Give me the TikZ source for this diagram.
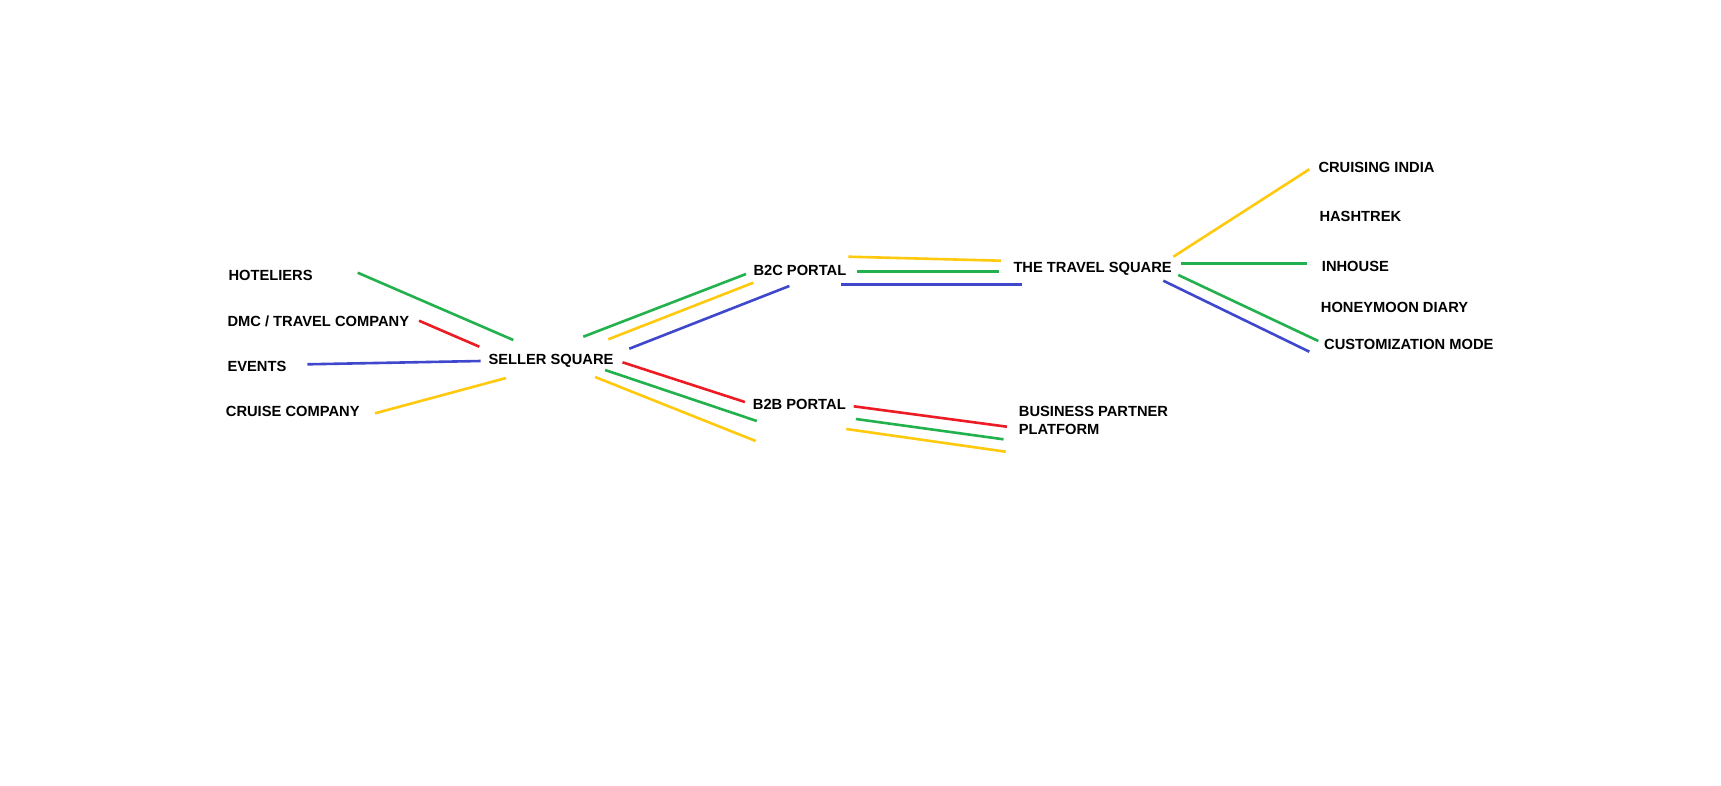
\documentclass[tikz,border=0pt]{standalone}
\usepackage{fontspec}
\setmainfont{Liberation Sans}
\definecolor{pgreen}{RGB}{34,177,76}
\definecolor{pred}{RGB}{237,28,36}
\definecolor{pblue}{RGB}{63,72,204}
\definecolor{pyellow}{RGB}{255,201,14}
\tikzset{
  lbl/.style={anchor=base west, inner sep=0pt, font=\fontsize{14.7}{18.3}\selectfont\bfseries, text=black, align=left},
  seg/.style={line width=2.6pt},
}
\begin{document}
\begin{tikzpicture}[x=1pt,y=-1pt]
\useasboundingbox[fill=white] (0,0) rectangle (1721,785);
% text nodes
\node[lbl] (hot) at (228.3,280.3) {HOTELIERS};
\node[lbl] (dmc) at (227.3,326) {DMC / TRAVEL COMPANY};
\node[lbl] (evt) at (227.3,371.7) {EVENTS};
\node[lbl] (cru) at (225.7,416.7) {CRUISE COMPANY};
\node[lbl] (ss) at (488.3,364) {SELLER SQUARE};
\node[lbl] (b2c) at (753.3,275.3) {B2C PORTAL};
\node[lbl] (b2b) at (752.7,409.3) {B2B PORTAL};
\node[lbl] (tts) at (1013.3,272.3) {THE TRAVEL SQUARE};
\node[lbl] (bpp) at (1018.7,434.3) {BUSINESS PARTNER\\PLATFORM};
\node[lbl] (ci) at (1318.3,172.3) {CRUISING INDIA};
\node[lbl] (ht) at (1319.3,221.3) {HASHTREK};
\node[lbl] (ih) at (1321.7,271.3) {INHOUSE};
\node[lbl] (hm) at (1320.7,312.3) {HONEYMOON DIARY};
\node[lbl] (cm) at (1324,349.3) {CUSTOMIZATION MODE};
% connector end points
\coordinate (a1) at (357.7,272.7); \coordinate (a2) at (513.3,340);
\coordinate (b1) at (419,320.7);   \coordinate (b2) at (479.3,346.7);
\coordinate (c1) at (307.3,364.3); \coordinate (c2) at (480.7,361);
\coordinate (d1) at (375,413.3);   \coordinate (d2) at (506,378);
\coordinate (e1) at (583.3,336.7); \coordinate (e2) at (746,274);
\coordinate (f1) at (608.3,339.3); \coordinate (f2) at (753.3,282.7);
\coordinate (g1) at (629.3,348.7); \coordinate (g2) at (789.3,286);
\coordinate (h1) at (848.3,256.7); \coordinate (h2) at (1001,260.7);
\coordinate (i1) at (857.3,271.3); \coordinate (i2) at (999,271.3);
\coordinate (j1) at (841,284.3);   \coordinate (j2) at (1021.7,284.3);
\coordinate (k1) at (622.5,362.3); \coordinate (k2) at (744.9,402);
\coordinate (l1) at (605.1,370);   \coordinate (l2) at (756.8,421);
\coordinate (m1) at (595.1,377);   \coordinate (m2) at (755.7,441);
\coordinate (n1) at (853.7,406.3); \coordinate (n2) at (1006.9,426.7);
\coordinate (o1) at (855.9,419);   \coordinate (o2) at (1003.5,439.3);
\coordinate (p1) at (846.3,429);   \coordinate (p2) at (1005.7,451.7);
\coordinate (q1) at (1173.3,256.7); \coordinate (q2) at (1309.3,169.3);
\coordinate (r1) at (1181.3,263.3); \coordinate (r2) at (1306.7,263.3);
\coordinate (s1) at (1178.3,275);   \coordinate (s2) at (1318.3,341);
\coordinate (t1) at (1163.3,280.7); \coordinate (t2) at (1309.3,351.7);
% connectors
\draw[seg,pgreen] (a1) -- (a2);
\draw[seg,pred] (b1) -- (b2);
\draw[seg,pblue] (c1) -- (c2);
\draw[seg,pyellow] (d1) -- (d2);
\draw[seg,pgreen] (e1) -- (e2);
\draw[seg,pyellow] (f1) -- (f2);
\draw[seg,pblue] (g1) -- (g2);
\draw[seg,pyellow] (h1) -- (h2);
\draw[seg,pgreen] (i1) -- (i2);
\draw[seg,pblue] (j1) -- (j2);
\draw[seg,pred] (k1) -- (k2);
\draw[seg,pgreen] (l1) -- (l2);
\draw[seg,pyellow] (m1) -- (m2);
\draw[seg,pred] (n1) -- (n2);
\draw[seg,pgreen] (o1) -- (o2);
\draw[seg,pyellow] (p1) -- (p2);
\draw[seg,pyellow] (q1) -- (q2);
\draw[seg,pgreen] (r1) -- (r2);
\draw[seg,pgreen] (s1) -- (s2);
\draw[seg,pblue] (t1) -- (t2);
\end{tikzpicture}
\end{document}
